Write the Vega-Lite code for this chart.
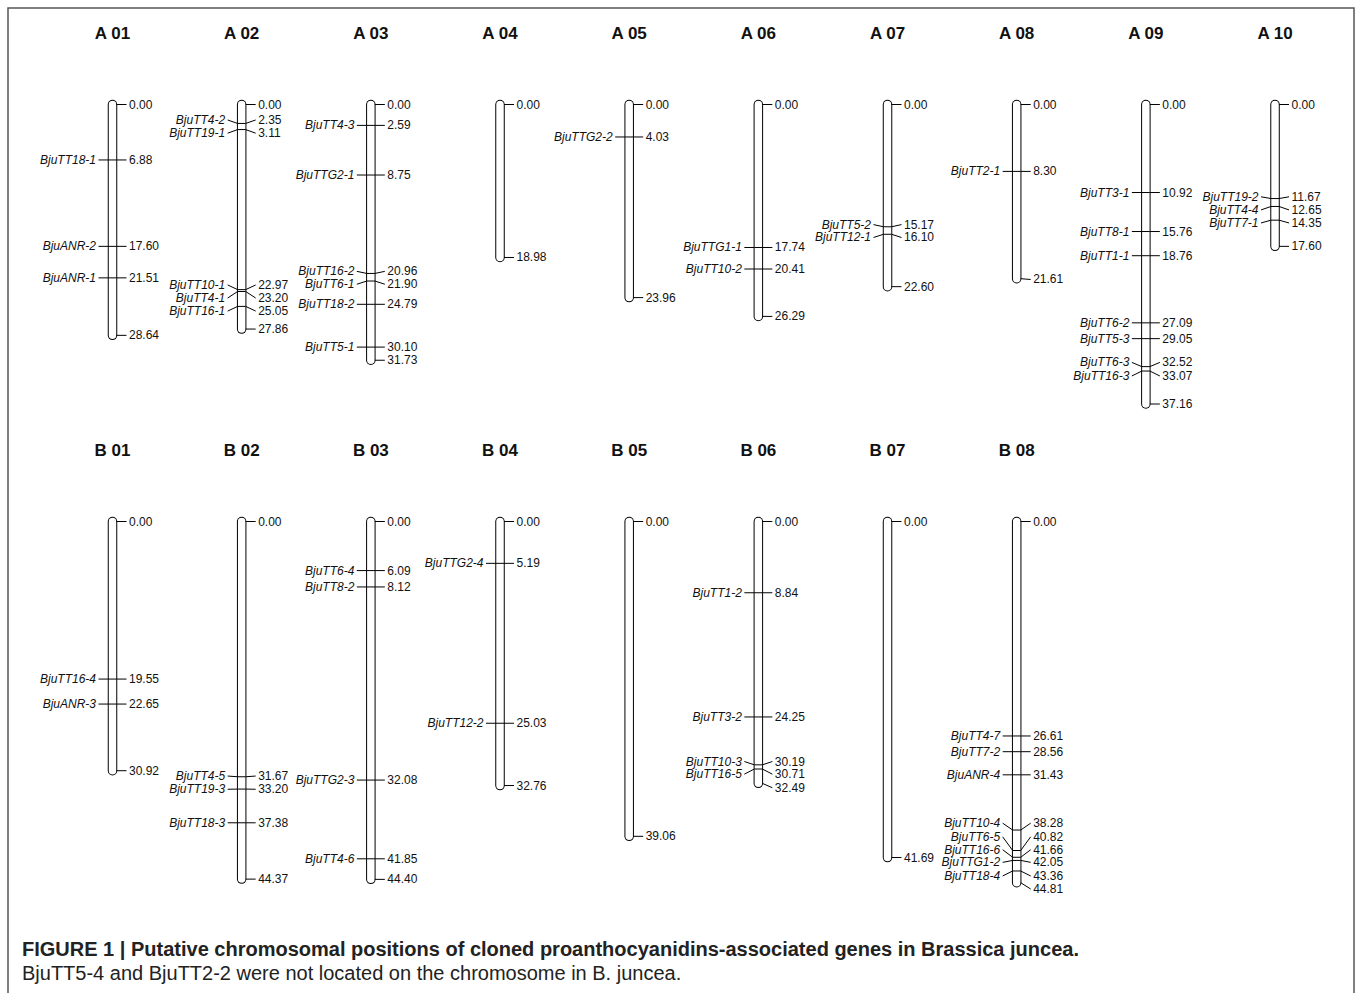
{
"$schema": "https://vega.github.io/schema/vega-lite/v6.json",
"width": 1346, "height": 990,
"padding": {"left": 8, "top": 8, "right": 4, "bottom": 0},
"background": "white",
"config": {"view": {"stroke": "#555", "strokeWidth": 1.5}, "font": "Liberation Sans"},
"title": {"text": "FIGURE 1 | Putative chromosomal positions of cloned proanthocyanidins-associated genes in Brassica juncea.", "subtitle": "BjuTT5-4 and BjuTT2-2 were not located on the chromosome in B. juncea.", "orient": "bottom", "anchor": "start", "frame": "group", "offset": -58.5, "dx": 14, "font": "Liberation Sans", "fontSize": 20, "fontWeight": "bold", "color": "#222", "subtitleFont": "Liberation Sans", "subtitleFontSize": 20, "subtitleColor": "#222", "subtitlePadding": 4},
"datasets": {
"chroms": [
{"row":"A","num":1,"chr":"A 01","start":0,"len":28.64},{"row":"A","num":2,"chr":"A 02","start":0,"len":27.86},{"row":"A","num":3,"chr":"A 03","start":0,"len":31.73},{"row":"A","num":4,"chr":"A 04","start":0,"len":18.98},{"row":"A","num":5,"chr":"A 05","start":0,"len":23.96},{"row":"A","num":6,"chr":"A 06","start":0,"len":26.29},{"row":"A","num":7,"chr":"A 07","start":0,"len":22.60},{"row":"A","num":8,"chr":"A 08","start":0,"len":21.61},{"row":"A","num":9,"chr":"A 09","start":0,"len":37.16},{"row":"A","num":10,"chr":"A 10","start":0,"len":17.60},
{"row":"B","num":1,"chr":"B 01","start":0,"len":30.92},{"row":"B","num":2,"chr":"B 02","start":0,"len":44.37},{"row":"B","num":3,"chr":"B 03","start":0,"len":44.40},{"row":"B","num":4,"chr":"B 04","start":0,"len":32.76},{"row":"B","num":5,"chr":"B 05","start":0,"len":39.06},{"row":"B","num":6,"chr":"B 06","start":0,"len":32.49},{"row":"B","num":7,"chr":"B 07","start":0,"len":41.69},{"row":"B","num":8,"chr":"B 08","start":0,"len":44.81}
],
"ends": [
{"row":"A","num":1,"pos":0,"lab":0},{"row":"A","num":1,"pos":28.64,"lab":28.64},
{"row":"A","num":2,"pos":0,"lab":0},{"row":"A","num":2,"pos":27.86,"lab":27.86},
{"row":"A","num":3,"pos":0,"lab":0},{"row":"A","num":3,"pos":31.73,"lab":31.73},
{"row":"A","num":4,"pos":0,"lab":0},{"row":"A","num":4,"pos":18.98,"lab":18.98},
{"row":"A","num":5,"pos":0,"lab":0},{"row":"A","num":5,"pos":23.96,"lab":23.96},
{"row":"A","num":6,"pos":0,"lab":0},{"row":"A","num":6,"pos":26.29,"lab":26.29},
{"row":"A","num":7,"pos":0,"lab":0},{"row":"A","num":7,"pos":22.60,"lab":22.60},
{"row":"A","num":8,"pos":0,"lab":0},{"row":"A","num":8,"pos":21.61,"lab":21.71},
{"row":"A","num":9,"pos":0,"lab":0},{"row":"A","num":9,"pos":37.16,"lab":37.16},
{"row":"A","num":10,"pos":0,"lab":0},{"row":"A","num":10,"pos":17.60,"lab":17.60},
{"row":"B","num":1,"pos":0,"lab":0},{"row":"B","num":1,"pos":30.92,"lab":30.92},
{"row":"B","num":2,"pos":0,"lab":0},{"row":"B","num":2,"pos":44.37,"lab":44.37},
{"row":"B","num":3,"pos":0,"lab":0},{"row":"B","num":3,"pos":44.40,"lab":44.40},
{"row":"B","num":4,"pos":0,"lab":0},{"row":"B","num":4,"pos":32.76,"lab":32.76},
{"row":"B","num":5,"pos":0,"lab":0},{"row":"B","num":5,"pos":39.06,"lab":39.06},
{"row":"B","num":6,"pos":0,"lab":0},{"row":"B","num":6,"pos":32.49,"lab":33.03},
{"row":"B","num":7,"pos":0,"lab":0},{"row":"B","num":7,"pos":41.69,"lab":41.69},
{"row":"B","num":8,"pos":0,"lab":0},{"row":"B","num":8,"pos":44.81,"lab":45.60}
],
"marks": [
{"row":"A","num":1,"gene":"BjuTT18-1","pos":6.88,"lab":6.88},
{"row":"A","num":1,"gene":"BjuANR-2","pos":17.60,"lab":17.60},
{"row":"A","num":1,"gene":"BjuANR-1","pos":21.51,"lab":21.51},
{"row":"A","num":2,"gene":"BjuTT4-2","pos":2.35,"lab":1.92},
{"row":"A","num":2,"gene":"BjuTT19-1","pos":3.11,"lab":3.56},
{"row":"A","num":2,"gene":"BjuTT10-1","pos":22.97,"lab":22.39},
{"row":"A","num":2,"gene":"BjuTT4-1","pos":23.20,"lab":24.01},
{"row":"A","num":2,"gene":"BjuTT16-1","pos":25.05,"lab":25.63},
{"row":"A","num":3,"gene":"BjuTT4-3","pos":2.59,"lab":2.59},
{"row":"A","num":3,"gene":"BjuTTG2-1","pos":8.75,"lab":8.75},
{"row":"A","num":3,"gene":"BjuTT16-2","pos":20.96,"lab":20.70},
{"row":"A","num":3,"gene":"BjuTT6-1","pos":21.90,"lab":22.30},
{"row":"A","num":3,"gene":"BjuTT18-2","pos":24.79,"lab":24.79},
{"row":"A","num":3,"gene":"BjuTT5-1","pos":30.10,"lab":30.10},
{"row":"A","num":5,"gene":"BjuTTG2-2","pos":4.03,"lab":4.03},
{"row":"A","num":6,"gene":"BjuTTG1-1","pos":17.74,"lab":17.74},
{"row":"A","num":6,"gene":"BjuTT10-2","pos":20.41,"lab":20.41},
{"row":"A","num":7,"gene":"BjuTT5-2","pos":15.17,"lab":14.90},
{"row":"A","num":7,"gene":"BjuTT12-1","pos":16.10,"lab":16.50},
{"row":"A","num":8,"gene":"BjuTT2-1","pos":8.30,"lab":8.30},
{"row":"A","num":9,"gene":"BjuTT3-1","pos":10.92,"lab":10.92},
{"row":"A","num":9,"gene":"BjuTT8-1","pos":15.76,"lab":15.76},
{"row":"A","num":9,"gene":"BjuTT1-1","pos":18.76,"lab":18.76},
{"row":"A","num":9,"gene":"BjuTT6-2","pos":27.09,"lab":27.09},
{"row":"A","num":9,"gene":"BjuTT5-3","pos":29.05,"lab":29.05},
{"row":"A","num":9,"gene":"BjuTT6-3","pos":32.52,"lab":32.00},
{"row":"A","num":9,"gene":"BjuTT16-3","pos":33.07,"lab":33.68},
{"row":"A","num":10,"gene":"BjuTT19-2","pos":11.67,"lab":11.45},
{"row":"A","num":10,"gene":"BjuTT4-4","pos":12.65,"lab":13.08},
{"row":"A","num":10,"gene":"BjuTT7-1","pos":14.35,"lab":14.70},
{"row":"B","num":1,"gene":"BjuTT16-4","pos":19.55,"lab":19.55},
{"row":"B","num":1,"gene":"BjuANR-3","pos":22.65,"lab":22.65},
{"row":"B","num":2,"gene":"BjuTT4-5","pos":31.67,"lab":31.58},
{"row":"B","num":2,"gene":"BjuTT19-3","pos":33.20,"lab":33.22},
{"row":"B","num":2,"gene":"BjuTT18-3","pos":37.38,"lab":37.38},
{"row":"B","num":3,"gene":"BjuTT6-4","pos":6.09,"lab":6.09},
{"row":"B","num":3,"gene":"BjuTT8-2","pos":8.12,"lab":8.12},
{"row":"B","num":3,"gene":"BjuTTG2-3","pos":32.08,"lab":32.08},
{"row":"B","num":3,"gene":"BjuTT4-6","pos":41.85,"lab":41.85},
{"row":"B","num":4,"gene":"BjuTTG2-4","pos":5.19,"lab":5.19},
{"row":"B","num":4,"gene":"BjuTT12-2","pos":25.03,"lab":25.03},
{"row":"B","num":6,"gene":"BjuTT1-2","pos":8.84,"lab":8.84},
{"row":"B","num":6,"gene":"BjuTT3-2","pos":24.25,"lab":24.25},
{"row":"B","num":6,"gene":"BjuTT10-3","pos":30.19,"lab":29.78},
{"row":"B","num":6,"gene":"BjuTT16-5","pos":30.71,"lab":31.35},
{"row":"B","num":8,"gene":"BjuTT4-7","pos":26.61,"lab":26.61},
{"row":"B","num":8,"gene":"BjuTT7-2","pos":28.56,"lab":28.56},
{"row":"B","num":8,"gene":"BjuANR-4","pos":31.43,"lab":31.43},
{"row":"B","num":8,"gene":"BjuTT10-4","pos":38.28,"lab":37.43},
{"row":"B","num":8,"gene":"BjuTT6-5","pos":40.82,"lab":39.12},
{"row":"B","num":8,"gene":"BjuTT16-6","pos":41.66,"lab":40.72},
{"row":"B","num":8,"gene":"BjuTTG1-2","pos":42.05,"lab":42.29},
{"row":"B","num":8,"gene":"BjuTT18-4","pos":43.36,"lab":43.98}
]
},
"resolve": {"scale": {"y": "independent"}},
"layer": [
{"data": {"name": "chroms"}, "transform": [{"filter": "datum.row === 'A'"}],
 "mark": {"type": "rule", "stroke": "black", "strokeWidth": 9.5, "strokeCap": "round"},
 "encoding": {"x": {"field": "num", "type": "quantitative", "scale": {"domain": [0.19098, 10.6114], "nice": false, "zero": false}, "axis": null},
  "y": {"field": "start", "type": "quantitative", "scale": {"domain": [-11.973, 110.856], "nice": false, "zero": false, "reverse": true}, "axis": null}, "y2": {"field": "len"}}},
{"data": {"name": "chroms"}, "transform": [{"filter": "datum.row === 'A'"}],
 "mark": {"type": "rule", "stroke": "white", "strokeWidth": 7.5, "strokeCap": "round"},
 "encoding": {"x": {"field": "num", "type": "quantitative", "scale": {"domain": [0.19098, 10.6114], "nice": false, "zero": false}, "axis": null},
  "y": {"field": "start", "type": "quantitative", "scale": {"domain": [-11.973, 110.856], "nice": false, "zero": false, "reverse": true}, "axis": null}, "y2": {"field": "len"}}},
{"data": {"name": "ends"}, "transform": [{"filter": "datum.row === 'A'"}],
 "mark": {"type": "rule", "stroke": "black", "strokeWidth": 1, "xOffset": 4, "x2Offset": 14},
 "encoding": {"x": {"field": "num", "type": "quantitative", "scale": {"domain": [0.19098, 10.6114], "nice": false, "zero": false}, "axis": null}, "x2": {"field": "num"},
  "y": {"field": "pos", "type": "quantitative", "scale": {"domain": [-11.973, 110.856], "nice": false, "zero": false, "reverse": true}, "axis": null}, "y2": {"field": "lab"}}},
{"data": {"name": "ends"}, "transform": [{"filter": "datum.row === 'A'"}],
 "mark": {"type": "text", "align": "left", "baseline": "middle", "dx": 16.5, "font": "Liberation Sans", "fontSize": 12, "color": "#111"},
 "encoding": {"x": {"field": "num", "type": "quantitative", "scale": {"domain": [0.19098, 10.6114], "nice": false, "zero": false}, "axis": null},
  "y": {"field": "lab", "type": "quantitative", "scale": {"domain": [-11.973, 110.856], "nice": false, "zero": false, "reverse": true}, "axis": null},
  "text": {"field": "pos", "type": "quantitative", "format": ".2f"}}},
{"data": {"name": "marks"}, "transform": [{"filter": "datum.row === 'A'"}],
 "mark": {"type": "rule", "stroke": "black", "strokeWidth": 1, "xOffset": -14, "x2Offset": -4},
 "encoding": {"x": {"field": "num", "type": "quantitative", "scale": {"domain": [0.19098, 10.6114], "nice": false, "zero": false}, "axis": null}, "x2": {"field": "num"},
  "y": {"field": "lab", "type": "quantitative", "scale": {"domain": [-11.973, 110.856], "nice": false, "zero": false, "reverse": true}, "axis": null}, "y2": {"field": "pos"}}},
{"data": {"name": "marks"}, "transform": [{"filter": "datum.row === 'A'"}],
 "mark": {"type": "rule", "stroke": "black", "strokeWidth": 1, "xOffset": -4, "x2Offset": 4},
 "encoding": {"x": {"field": "num", "type": "quantitative", "scale": {"domain": [0.19098, 10.6114], "nice": false, "zero": false}, "axis": null}, "x2": {"field": "num"},
  "y": {"field": "pos", "type": "quantitative", "scale": {"domain": [-11.973, 110.856], "nice": false, "zero": false, "reverse": true}, "axis": null}}},
{"data": {"name": "marks"}, "transform": [{"filter": "datum.row === 'A'"}],
 "mark": {"type": "rule", "stroke": "black", "strokeWidth": 1, "xOffset": 4, "x2Offset": 14},
 "encoding": {"x": {"field": "num", "type": "quantitative", "scale": {"domain": [0.19098, 10.6114], "nice": false, "zero": false}, "axis": null}, "x2": {"field": "num"},
  "y": {"field": "pos", "type": "quantitative", "scale": {"domain": [-11.973, 110.856], "nice": false, "zero": false, "reverse": true}, "axis": null}, "y2": {"field": "lab"}}},
{"data": {"name": "marks"}, "transform": [{"filter": "datum.row === 'A'"}],
 "mark": {"type": "text", "align": "right", "baseline": "middle", "dx": -16.5, "font": "Liberation Sans", "fontSize": 12, "fontStyle": "italic", "color": "#111"},
 "encoding": {"x": {"field": "num", "type": "quantitative", "scale": {"domain": [0.19098, 10.6114], "nice": false, "zero": false}, "axis": null},
  "y": {"field": "lab", "type": "quantitative", "scale": {"domain": [-11.973, 110.856], "nice": false, "zero": false, "reverse": true}, "axis": null},
  "text": {"field": "gene"}}},
{"data": {"name": "marks"}, "transform": [{"filter": "datum.row === 'A'"}],
 "mark": {"type": "text", "align": "left", "baseline": "middle", "dx": 16.5, "font": "Liberation Sans", "fontSize": 12, "color": "#111"},
 "encoding": {"x": {"field": "num", "type": "quantitative", "scale": {"domain": [0.19098, 10.6114], "nice": false, "zero": false}, "axis": null},
  "y": {"field": "lab", "type": "quantitative", "scale": {"domain": [-11.973, 110.856], "nice": false, "zero": false, "reverse": true}, "axis": null},
  "text": {"field": "pos", "type": "quantitative", "format": ".2f"}}},
{"data": {"name": "chroms"}, "transform": [{"filter": "datum.row === 'A'"}],
 "mark": {"type": "text", "align": "center", "baseline": "middle", "dy": -70.5, "font": "Liberation Sans", "fontSize": 17, "fontWeight": "bold", "color": "#111"},
 "encoding": {"x": {"field": "num", "type": "quantitative", "scale": {"domain": [0.19098, 10.6114], "nice": false, "zero": false}, "axis": null},
  "y": {"field": "start", "type": "quantitative", "scale": {"domain": [-11.973, 110.856], "nice": false, "zero": false, "reverse": true}, "axis": null},
  "text": {"field": "chr"}}},
{"data": {"name": "chroms"}, "transform": [{"filter": "datum.row === 'B'"}],
 "mark": {"type": "rule", "stroke": "black", "strokeWidth": 9.5, "strokeCap": "round"},
 "encoding": {"x": {"field": "num", "type": "quantitative", "scale": {"domain": [0.19098, 10.6114], "nice": false, "zero": false}, "axis": null},
  "y": {"field": "start", "type": "quantitative", "scale": {"domain": [-63.710, 59.119], "nice": false, "zero": false, "reverse": true}, "axis": null}, "y2": {"field": "len"}}},
{"data": {"name": "chroms"}, "transform": [{"filter": "datum.row === 'B'"}],
 "mark": {"type": "rule", "stroke": "white", "strokeWidth": 7.5, "strokeCap": "round"},
 "encoding": {"x": {"field": "num", "type": "quantitative", "scale": {"domain": [0.19098, 10.6114], "nice": false, "zero": false}, "axis": null},
  "y": {"field": "start", "type": "quantitative", "scale": {"domain": [-63.710, 59.119], "nice": false, "zero": false, "reverse": true}, "axis": null}, "y2": {"field": "len"}}},
{"data": {"name": "ends"}, "transform": [{"filter": "datum.row === 'B'"}],
 "mark": {"type": "rule", "stroke": "black", "strokeWidth": 1, "xOffset": 4, "x2Offset": 14},
 "encoding": {"x": {"field": "num", "type": "quantitative", "scale": {"domain": [0.19098, 10.6114], "nice": false, "zero": false}, "axis": null}, "x2": {"field": "num"},
  "y": {"field": "pos", "type": "quantitative", "scale": {"domain": [-63.710, 59.119], "nice": false, "zero": false, "reverse": true}, "axis": null}, "y2": {"field": "lab"}}},
{"data": {"name": "ends"}, "transform": [{"filter": "datum.row === 'B'"}],
 "mark": {"type": "text", "align": "left", "baseline": "middle", "dx": 16.5, "font": "Liberation Sans", "fontSize": 12, "color": "#111"},
 "encoding": {"x": {"field": "num", "type": "quantitative", "scale": {"domain": [0.19098, 10.6114], "nice": false, "zero": false}, "axis": null},
  "y": {"field": "lab", "type": "quantitative", "scale": {"domain": [-63.710, 59.119], "nice": false, "zero": false, "reverse": true}, "axis": null},
  "text": {"field": "pos", "type": "quantitative", "format": ".2f"}}},
{"data": {"name": "marks"}, "transform": [{"filter": "datum.row === 'B'"}],
 "mark": {"type": "rule", "stroke": "black", "strokeWidth": 1, "xOffset": -14, "x2Offset": -4},
 "encoding": {"x": {"field": "num", "type": "quantitative", "scale": {"domain": [0.19098, 10.6114], "nice": false, "zero": false}, "axis": null}, "x2": {"field": "num"},
  "y": {"field": "lab", "type": "quantitative", "scale": {"domain": [-63.710, 59.119], "nice": false, "zero": false, "reverse": true}, "axis": null}, "y2": {"field": "pos"}}},
{"data": {"name": "marks"}, "transform": [{"filter": "datum.row === 'B'"}],
 "mark": {"type": "rule", "stroke": "black", "strokeWidth": 1, "xOffset": -4, "x2Offset": 4},
 "encoding": {"x": {"field": "num", "type": "quantitative", "scale": {"domain": [0.19098, 10.6114], "nice": false, "zero": false}, "axis": null}, "x2": {"field": "num"},
  "y": {"field": "pos", "type": "quantitative", "scale": {"domain": [-63.710, 59.119], "nice": false, "zero": false, "reverse": true}, "axis": null}}},
{"data": {"name": "marks"}, "transform": [{"filter": "datum.row === 'B'"}],
 "mark": {"type": "rule", "stroke": "black", "strokeWidth": 1, "xOffset": 4, "x2Offset": 14},
 "encoding": {"x": {"field": "num", "type": "quantitative", "scale": {"domain": [0.19098, 10.6114], "nice": false, "zero": false}, "axis": null}, "x2": {"field": "num"},
  "y": {"field": "pos", "type": "quantitative", "scale": {"domain": [-63.710, 59.119], "nice": false, "zero": false, "reverse": true}, "axis": null}, "y2": {"field": "lab"}}},
{"data": {"name": "marks"}, "transform": [{"filter": "datum.row === 'B'"}],
 "mark": {"type": "text", "align": "right", "baseline": "middle", "dx": -16.5, "font": "Liberation Sans", "fontSize": 12, "fontStyle": "italic", "color": "#111"},
 "encoding": {"x": {"field": "num", "type": "quantitative", "scale": {"domain": [0.19098, 10.6114], "nice": false, "zero": false}, "axis": null},
  "y": {"field": "lab", "type": "quantitative", "scale": {"domain": [-63.710, 59.119], "nice": false, "zero": false, "reverse": true}, "axis": null},
  "text": {"field": "gene"}}},
{"data": {"name": "marks"}, "transform": [{"filter": "datum.row === 'B'"}],
 "mark": {"type": "text", "align": "left", "baseline": "middle", "dx": 16.5, "font": "Liberation Sans", "fontSize": 12, "color": "#111"},
 "encoding": {"x": {"field": "num", "type": "quantitative", "scale": {"domain": [0.19098, 10.6114], "nice": false, "zero": false}, "axis": null},
  "y": {"field": "lab", "type": "quantitative", "scale": {"domain": [-63.710, 59.119], "nice": false, "zero": false, "reverse": true}, "axis": null},
  "text": {"field": "pos", "type": "quantitative", "format": ".2f"}}},
{"data": {"name": "chroms"}, "transform": [{"filter": "datum.row === 'B'"}],
 "mark": {"type": "text", "align": "center", "baseline": "middle", "dy": -70.5, "font": "Liberation Sans", "fontSize": 17, "fontWeight": "bold", "color": "#111"},
 "encoding": {"x": {"field": "num", "type": "quantitative", "scale": {"domain": [0.19098, 10.6114], "nice": false, "zero": false}, "axis": null},
  "y": {"field": "start", "type": "quantitative", "scale": {"domain": [-63.710, 59.119], "nice": false, "zero": false, "reverse": true}, "axis": null},
  "text": {"field": "chr"}}}
]
}
